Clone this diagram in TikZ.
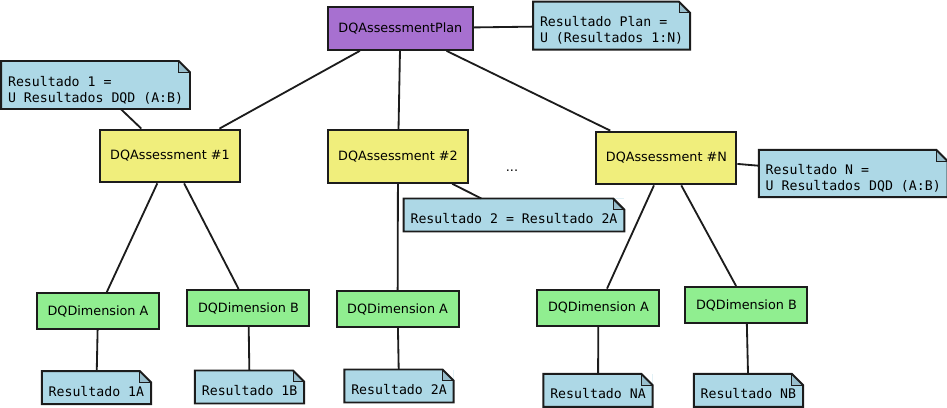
\documentclass[tikz,border=0pt]{standalone}
\usepackage{fontspec}
\setmainfont{DejaVu Sans}
\setmonofont{DejaVu Sans Mono}
\usetikzlibrary{positioning}

\definecolor{planpurple}{RGB}{167,112,208}
\definecolor{assessyellow}{RGB}{240,238,124}
\definecolor{dimgreen}{RGB}{144,238,144}
\definecolor{noteblue}{RGB}{173,216,230}
\definecolor{foldblue}{RGB}{152,190,204}
\definecolor{edgegray}{RGB}{28,28,28}
\newcommand{\notestrut}{\rule{0pt}{14.3pt}}

\begin{document}
\begin{tikzpicture}[font=\fontsize{9.1}{11}\selectfont,
    box/.style={draw=edgegray, line width=1.4pt, rectangle},
    plan/.style={box, fill=planpurple, minimum width=3.625cm, minimum height=1.075cm},
    assess/.style={box, fill=assessyellow, minimum width=3.5cm, minimum height=1.32cm},
    dim/.style={box, fill=dimgreen, minimum width=3.05cm, minimum height=0.9cm},
    note/.style={fill=noteblue, rectangle, outer sep=0pt, inner xsep=4.9pt, align=left,
        font=\ttfamily\fontsize{9.4}{11.4}\selectfont},
    res/.style={note, minimum height=0.825cm, text height=12pt, text depth=0pt},
    bigres/.style={note, minimum height=1.2cm},
    link/.style={draw=edgegray, line width=1.3pt}]
    \useasboundingbox (0,0) rectangle (23.675,-10.2);
    % 计划
    \node[plan] (plan) at (10.01,-0.71) {DQAssessmentPlan};
    \node[bigres] (planres) at (15.29,-0.64) {\notestrut Resultado Plan =\\U (Resultados 1:N)};
    % 评估
    \node[assess] (as1) at (4.25,-3.9) {DQAssessment \#1};
    \node[assess] (as2) at (9.95,-3.91) {DQAssessment \#2};
    \node[assess] (asN) at (16.66,-3.95) {DQAssessment \#N};
    \node (dots) at (12.8,-4.28) {...};
    % 评估结果
    \node[bigres] (res1) at (2.39,-2.125) {\notestrut Resultado 1 =\\U Resultados DQD (A:B)};
    \node[res] (res2) at (12.85,-5.375) {Resultado 2 = Resultado 2A};
    \node[bigres, minimum height=1.175cm] (resN) at (21.33,-4.34) {\notestrut Resultado N =\\U Resultados DQD (A:B)};
    % 维度
    \foreach \n/\x/\y/\t in {1A/2.45/-7.775/A, 1B/6.21/-7.7/B, 2A/9.94/-7.725/A, NA/14.96/-7.69/A, NB/18.66/-7.625/B} {
        \node[dim] (d\n) at (\x,\y) {DQDimension \t};
    }
    % 维度结果
    \foreach \n/\x/\y in {1A/2.41/-9.69, 1B/6.24/-9.675, 2A/9.975/-9.65, NA/14.95/-9.76, NB/18.71/-9.76} {
        \node[res] (r\n) at (\x,\y) {Resultado \n};
        \draw[link] (d\n) -- (r\n);
    }
    % 连线
    \draw[link] (plan) -- (planres);
    \draw[link] (plan) -- (as1);
    \draw[link] (plan) -- (as2);
    \draw[link] (plan) -- (asN);
    \draw[link] (res1) -- (as1);
    \draw[link] (as2) -- (res2);
    \draw[link] (asN) -- (resN);
    \draw[link] (as1) -- (d1A);
    \draw[link] (as1) -- (d1B);
    \draw[link] (as2) -- (d2A);
    \draw[link] (asN) -- (dNA);
    \draw[link] (asN) -- (dNB);
    % 折角
    \foreach \m in {planres, res1, res2, resN, r1A, r1B, r2A, rNA, rNB} {
        \fill[white] ([xshift=-0.28cm]\m.north east) -- (\m.north east) -- ([yshift=-0.28cm]\m.north east) -- cycle;
        \filldraw[fill=foldblue, draw=edgegray, line width=0.5pt] ([xshift=-0.28cm]\m.north east) |- ([yshift=-0.28cm]\m.north east);
        \draw[edgegray, line width=1.4pt] (\m.north west) -- ([xshift=-0.28cm]\m.north east) -- ([yshift=-0.28cm]\m.north east) -- (\m.south east) -- (\m.south west) -- cycle;
    }
\end{tikzpicture}
\end{document}
